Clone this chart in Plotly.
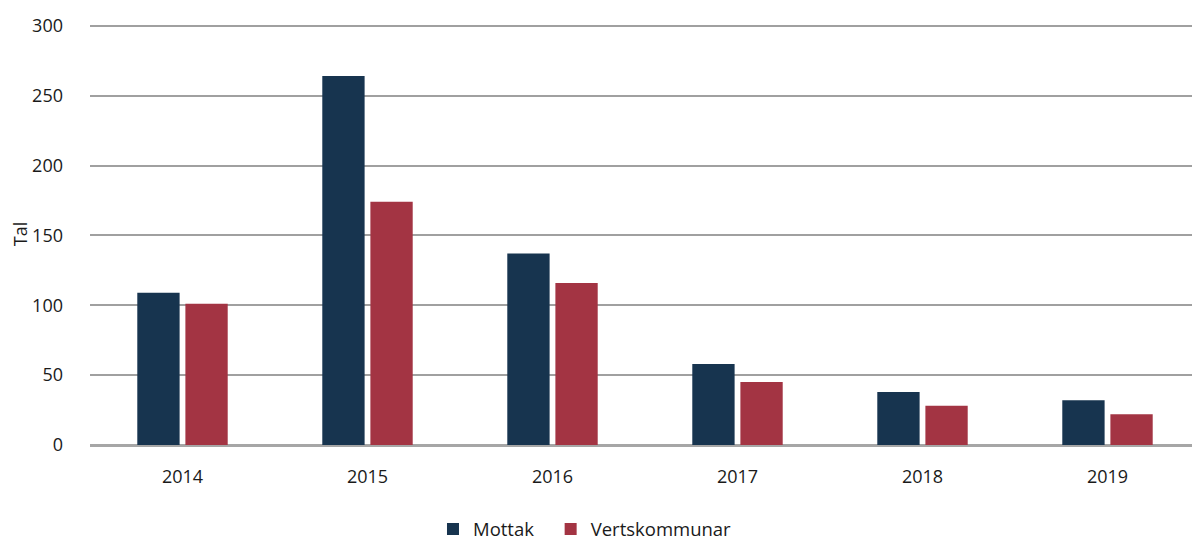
import plotly.graph_objects as go

years = ['2014', '2015', '2016', '2017', '2018', '2019']
mottak = [109, 264, 137, 58, 38, 32]
vertskommunar = [101, 174, 116, 45, 28, 22]

NAVY = '#17344f'
RED = '#a33443'
FONT = 'Open Sans'

fig = go.Figure()
fig.add_trace(go.Bar(x=years, y=mottak, name='Mottak', legend='legend', showlegend=True,
                     marker=dict(color=NAVY, line=dict(width=0))))
fig.add_trace(go.Bar(x=years, y=vertskommunar, name='Vertskommunar', legend='legend2', showlegend=True,
                     marker=dict(color=RED, line=dict(width=0))))

leg = dict(orientation='h', xanchor='left', y=-0.2, yanchor='middle',
           font=dict(size=18.5), itemwidth=30)

# the page body adds an 8px offset, so margins are shifted to compensate
fig.update_layout(
    width=1200, height=558, showlegend=True,
    margin=dict(l=82, r=8, t=15, b=121, autoexpand=False),
    plot_bgcolor='white', paper_bgcolor='white',
    barmode='group', bargap=0.48, bargroupgap=0.12,
    font=dict(family=FONT, size=18, color='#1a1a1a'),
    legend=dict(leg, x=0.309),
    legend2=dict(leg, x=0.415),
    xaxis=dict(showgrid=False, showline=False, ticks='', ticklabelstandoff=19, automargin=False),
    yaxis=dict(range=[0, 302], dtick=50, showgrid=True, gridcolor='#a0a0a0', gridwidth=1.5,
               zeroline=True, zerolinecolor='#a6a6a6', zerolinewidth=2.5,
               showline=False, ticks='', ticklabelstandoff=26, automargin=False,
               title=dict(text='Tal', font=dict(size=18))),
)

fig.write_html('out.html')
